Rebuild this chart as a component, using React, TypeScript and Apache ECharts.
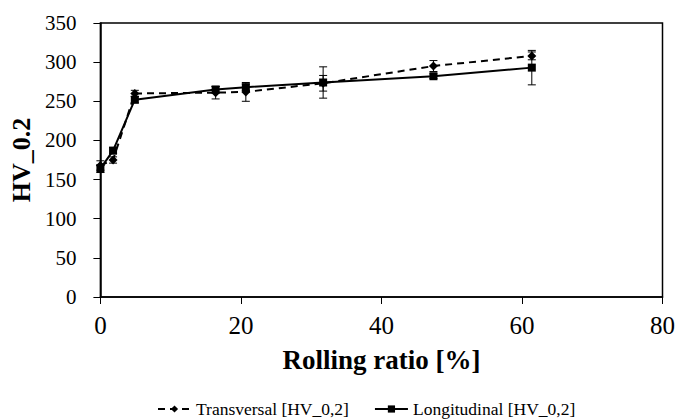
import React, { useEffect, useRef } from "react";
import * as echarts from "echarts";

const rolling = [0, 1.8, 4.9, 16.4, 20.7, 31.7, 47.4, 61.4];
const transversal = [168, 175, 260, 261, 262, 273, 295, 308];
const transversalErr = [6, 4, 4, 8, 12, 10, 7, 5];
const longitudinal = [164, 187, 252, 265, 268, 274, 282, 293];
const longitudinalErr = [5, 4, 4, 4, 4, 20, 3, 22];
const xTicks = [0, 20, 40, 60, 80];
const yTicks = [0, 50, 100, 150, 200, 250, 300, 350];

const FONT = "'Liberation Serif', 'Times New Roman', serif";

function errSeries(vals: number[], errs: number[]) {
  return {
    type: "custom",
    silent: true,
    z: 1,
    data: rolling.map((x, i) => [x, vals[i] - errs[i], vals[i] + errs[i]]),
    renderItem: (params: any, api: any) => {
      const x = api.value(0);
      const lo = api.coord([x, api.value(1)]);
      const hi = api.coord([x, api.value(2)]);
      const w = 4;
      const style = { stroke: "#000", lineWidth: 1 };
      return {
        type: "group",
        children: [
          { type: "line", shape: { x1: lo[0], y1: lo[1], x2: hi[0], y2: hi[1] }, style },
          { type: "line", shape: { x1: lo[0] - w, y1: lo[1], x2: lo[0] + w, y2: lo[1] }, style },
          { type: "line", shape: { x1: hi[0] - w, y1: hi[1], x2: hi[0] + w, y2: hi[1] }, style },
        ],
      };
    },
  };
}

export default function App() {
  const ref = useRef<HTMLDivElement>(null);
  useEffect(() => {
    const chart = echarts.init(ref.current!, null, { renderer: "svg" });
    chart.setOption({
      animation: false,
      textStyle: { fontFamily: FONT },
      grid: {
        left: 97,
        right: 15,
        top: 23,
        bottom: 122,
        show: true,
        borderColor: "#000",
        borderWidth: 1.5,
        backgroundColor: "transparent",
      },
      legend: {
        bottom: 1,
        left: 157,
        padding: 0,
        itemWidth: 33,
        itemHeight: 9,
        itemGap: 25,
        textStyle: { fontFamily: FONT, fontSize: 17.5, color: "#000" },
        data: ["Transversal [HV_0,2]", "Longitudinal [HV_0,2]"],
      },
      xAxis: {
        type: "value",
        min: xTicks[0],
        max: xTicks[xTicks.length - 1],
        interval: xTicks[1] - xTicks[0],
        name: "Rolling ratio [%]",
        nameLocation: "middle",
        nameGap: 49,
        nameTextStyle: { fontFamily: FONT, fontSize: 27, fontWeight: "bold", color: "#000" },
        axisLine: { show: true, lineStyle: { color: "#000", width: 1.5 } },
        axisTick: { show: true, length: 7, lineStyle: { color: "#000" } },
        axisLabel: { fontFamily: FONT, fontSize: 25, color: "#000", margin: 16 },
        splitLine: { show: false },
      },
      yAxis: {
        type: "value",
        min: yTicks[0],
        max: yTicks[yTicks.length - 1],
        interval: yTicks[1] - yTicks[0],
        name: "HV_0.2",
        nameLocation: "middle",
        nameGap: 63,
        nameTextStyle: { fontFamily: FONT, fontSize: 26, fontWeight: "bold", color: "#000" },
        axisLine: { show: true, lineStyle: { color: "#000", width: 1.5 } },
        axisTick: { show: true, length: 7, lineStyle: { color: "#000" } },
        axisLabel: { fontFamily: FONT, fontSize: 21, color: "#000", margin: 24 },
        splitLine: { show: false },
      },
      series: [
        errSeries(transversal, transversalErr),
        errSeries(longitudinal, longitudinalErr),
        {
          name: "Transversal [HV_0,2]",
          type: "line",
          z: 3,
          data: rolling.map((x, i) => [x, transversal[i]]),
          symbol: "diamond",
          symbolSize: 9,
          itemStyle: { color: "#000" },
          lineStyle: { color: "#000", width: 2, type: [7, 5] },
        },
        {
          name: "Longitudinal [HV_0,2]",
          type: "line",
          z: 4,
          data: rolling.map((x, i) => [x, longitudinal[i]]),
          symbol: "rect",
          symbolSize: 8,
          itemStyle: { color: "#000" },
          lineStyle: { color: "#000", width: 2 },
        },
      ],
    });
    return () => chart.dispose();
  }, []);
  return (
    <div
      ref={ref}
      style={{ position: "absolute", left: 0, top: 0, width: 678, height: 419 }}
    />
  );
}
